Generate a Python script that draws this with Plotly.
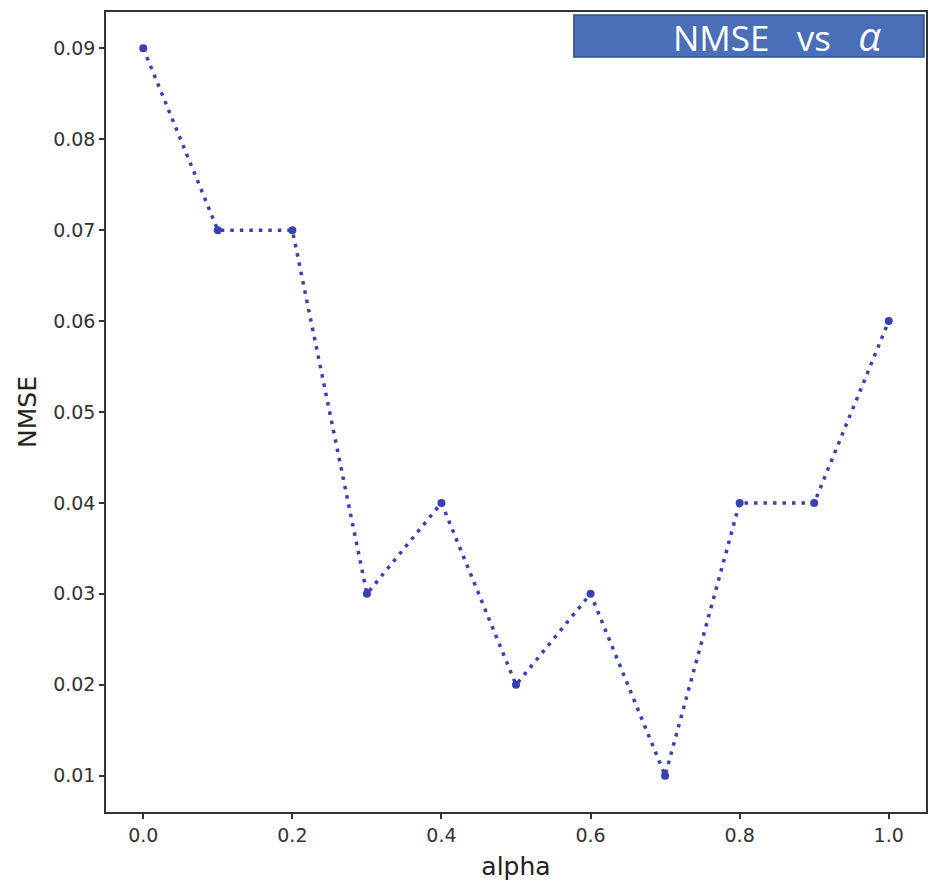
import plotly.graph_objects as go

alpha = [0.0, 0.1, 0.2, 0.3, 0.4, 0.5, 0.6, 0.7, 0.8, 0.9, 1.0]
nmse = [0.09, 0.07, 0.07, 0.03, 0.04, 0.02, 0.03, 0.01, 0.04, 0.04, 0.06]
x_ticks = [0.0, 0.2, 0.4, 0.6, 0.8, 1.0]
x_labels = ["0.0", "0.2", "0.4", "0.6", "0.8", "1.0"]
y_ticks = [0.01, 0.02, 0.03, 0.04, 0.05, 0.06, 0.07, 0.08, 0.09]
y_labels = ["0.01", "0.02", "0.03", "0.04", "0.05", "0.06", "0.07", "0.08", "0.09"]

W, H = 930, 882
L, R, T, B = 106, 2, 12, 70
pw, ph = W - L - R, H - T - B

def px(x):
    return (x - L) / pw

def py(y):
    return (H - B - y) / ph

fig = go.Figure()
fig.add_trace(go.Scatter(
    x=alpha, y=nmse, mode="lines+markers",
    line=dict(color="#3a3fb4", width=3.5, dash="3.5px,6px"),
    marker=dict(color="#3a3fb4", size=8),
    showlegend=False,
))

tick_font = dict(family="DejaVu Sans", size=19, color="#333333")
title_font = dict(family="DejaVu Sans", size=25, color="#222222")

fig.update_layout(
    width=W, height=H, margin=dict(l=L, r=R, t=T, b=B),
    plot_bgcolor="white", paper_bgcolor="white",
    xaxis=dict(
        range=[-0.05, 1.05], tickmode="array", tickvals=x_ticks, ticktext=x_labels,
        tickfont=tick_font,
        title=dict(text="alpha", font=title_font, standoff=13),
        showgrid=False, zeroline=False, showline=True, mirror=True,
        linecolor="#333333", linewidth=1.5, ticks="outside", ticklen=5,
        tickwidth=1.5, tickcolor="#333333",
    ),
    yaxis=dict(
        range=[0.006, 0.094], tickmode="array", tickvals=y_ticks, ticktext=y_labels,
        tickfont=tick_font,
        title=dict(text="NMSE", font=title_font, standoff=9),
        showgrid=False, zeroline=False, showline=True, mirror=True,
        linecolor="#333333", linewidth=1.5, ticks="outside", ticklen=5,
        tickwidth=1.5, tickcolor="#333333",
    ),
)

fig.add_shape(type="rect", xref="paper", yref="paper",
              x0=px(575), x1=px(926), y0=py(57), y1=py(15),
              fillcolor="#4a6eb8", line=dict(color="#2f528f", width=1.5))
fig.add_annotation(xref="paper", yref="paper", x=px(779), y=py(35),
                   text="NMSE&nbsp;&nbsp;&nbsp;vs&nbsp;&nbsp;&nbsp;<i><span style='font-size:40px'>α</span></i>",
                   showarrow=False,
                   font=dict(family="Open Sans", size=35, color="white"),
                   xanchor="center", yanchor="middle")

fig.write_html("out.html")
